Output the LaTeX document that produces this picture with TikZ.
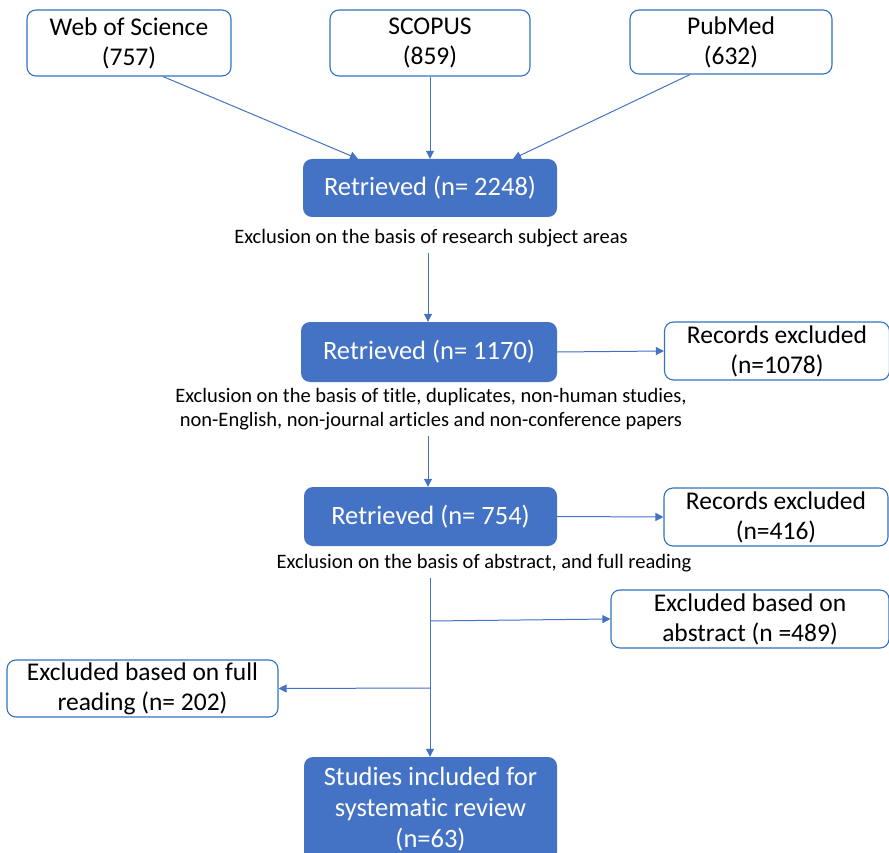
\documentclass[tikz,border=0pt]{standalone}
\usepackage{fontspec}
\setmainfont{Carlito}[Ligatures={NoCommon}]
\usetikzlibrary{arrows.meta}
\definecolor{fillblue}{RGB}{68,114,196}
\definecolor{lineblue}{RGB}{68,114,196}
\definecolor{edgeblue}{RGB}{50,115,190}
\tikzset{
  box/.style={draw=edgeblue, line width=1.1pt, rounded corners=9pt, fill=white, align=center,
    inner sep=0pt, font=\fontsize{25.5}{30}\selectfont},
  ret/.style={fill=fillblue, rounded corners=9pt, align=center, text=white,
    inner sep=0pt, font=\fontsize{26.5}{31}\selectfont},
  lbl/.style={align=center, inner sep=0pt, font=\fontsize{20.5}{24}\selectfont},
  arr/.style={draw=lineblue, line width=1pt, -{Triangle[length=8pt,width=8pt]}},
  ln/.style={draw=lineblue, line width=1pt}
}
\begin{document}
\begin{tikzpicture}[x=1pt,y=-1pt]
\useasboundingbox (0,0) rectangle (889,853);
\begin{scope}
\clip (0,0) rectangle (889,853);
% sources
\node[box, minimum width=204pt, minimum height=66pt] (wos) at (129,43) {Web of Science\\(757)};
\node[box, minimum width=200pt, minimum height=66pt] (scopus) at (430,43) {SCOPUS\\(859)};
\node[box, minimum width=202pt, minimum height=64pt] (pubmed) at (731,42) {PubMed\\(632)};
% retrieved
\node[ret, minimum width=254pt, minimum height=58pt] (r1) at (430,188) {Retrieved (n= 2248)};
\node[ret, minimum width=256pt, minimum height=60pt] (r2) at (429,352) {Retrieved (n= 1170)};
\node[ret, minimum width=253pt, minimum height=59pt] (r3) at (430.5,516.5) {Retrieved (n= 754)};
% excluded
\node[box, minimum width=225pt, minimum height=58pt] (x1) at (777,351) {Records excluded\\(n=1078)};
\node[box, minimum width=224pt, minimum height=58pt] (x2) at (776,517) {Records excluded\\(n=416)};
\node[box, minimum width=278pt, minimum height=58pt] (xa) at (750,619) {Excluded based on\\abstract (n =489)};
\node[box, minimum width=271pt, minimum height=57pt] (xf) at (142.5,688.5) {Excluded based on full\\reading (n= 202)};
\node[ret, minimum width=253pt, minimum height=104pt] (st) at (430.5,809) {Studies included for\\systematic review\\(n=63)};
% labels
\node[lbl] (l1) at (431,238) {Exclusion on the basis of research subject areas};
\node[lbl] (l2) at (431,409) {Exclusion on the basis of title, duplicates, non-human studies,\\non-English, non-journal articles and non-conference papers};
\node[lbl] (l3) at (484,563) {Exclusion on the basis of abstract, and full reading};
% connectors
\draw[arr] ([xshift=34pt]wos.south) -- ([xshift=-72pt]r1.north);
\draw[arr] (scopus.south) -- (r1.north);
\draw[arr] ([xshift=-41pt]pubmed.south) -- ([xshift=83pt]r1.north);
\coordinate (c1) at (428,253);
\draw[arr] (c1) -- (r2.north -| c1);
\draw[arr] (r2.east) -- (x1.west);
\coordinate (c2) at (428,436);
\draw[arr] (c2) -- (r3.north -| c2);
\draw[arr] (r3.east) -- (x2.west);
\coordinate (c3) at (430,578);
\coordinate (b1) at (430,621);
\coordinate (b2) at (430,688);
\draw[arr] (c3) -- (st.north -| c3);
\draw[arr] (b1) -- (xa.west);
\draw[arr] (b2) -- (xf.east);
\end{scope}
\end{tikzpicture}
\end{document}
